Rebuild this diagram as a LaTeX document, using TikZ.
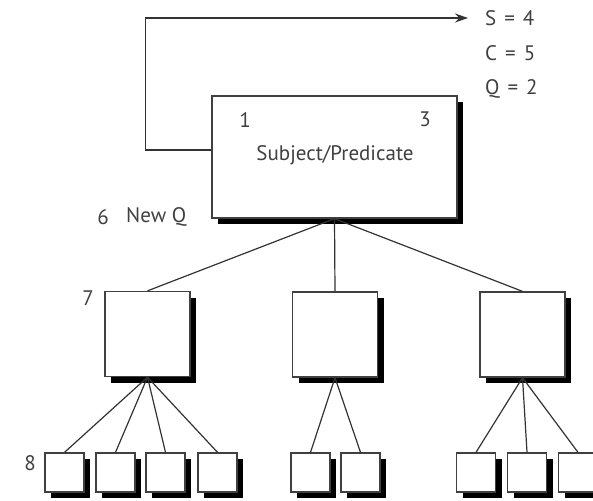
\documentclass[tikz,border=0pt]{standalone}
\usepackage{fontspec}
\setmainfont{PT Sans}
\usetikzlibrary{shadows,arrows.meta}
\begin{document}
\begin{tikzpicture}[x=1pt,y=-1pt,
  box/.style={draw=black!75, line width=1.3pt, fill=white, inner sep=0pt,
    drop shadow={shadow xshift=6pt, shadow yshift=-6pt, opacity=1, fill=black}},
  bigbox/.style={box, minimum width=245pt, minimum height=122pt},
  midbox/.style={box, minimum width=85pt, minimum height=85pt},
  smallbox/.style={box, minimum width=39pt, minimum height=39pt},
  conn/.style={draw=black!80, line width=1.2pt},
  lbl/.style={text=black!75, inner sep=0pt, font=\fontsize{21}{25}\selectfont}
]
\useasboundingbox (0,0) rectangle (593,500);
\clip (0,0) rectangle (593,500);

% main box
\node[bigbox] (m) at (334.5,157) {};
\node[lbl] (n1) at (245,120) {1};
\node[lbl] (n3) at (425,119) {3};
\node[lbl] (sp) at (335,155) {Subject/Predicate};

% mid boxes
\node[midbox] (b1) at (147.5,334) {};
\node[midbox] (b2) at (335,334.5) {};
\node[midbox] (b3) at (522.5,334.5) {};

% small boxes
\node[smallbox] (s1) at (64.5,472.5) {};
\node[smallbox] (s2) at (115.5,472.5) {};
\node[smallbox] (s3) at (165.5,472.5) {};
\node[smallbox] (s4) at (217.5,472.5) {};
\node[smallbox] (s5) at (310.5,472.5) {};
\node[smallbox] (s6) at (360.5,472.5) {};
\node[smallbox] (s7) at (476,472.5) {};
\node[smallbox] (s8) at (527,472.5) {};
\node[smallbox] (s9) at (578,472.5) {};

% connectors
\draw[conn] (m.south) -- (b1.north);
\draw[conn] (m.south) -- (b2.north);
\draw[conn] (m.south) -- (b3.north);
\draw[conn] (b1.south) -- (s1.north);
\draw[conn] (b1.south) -- (s2.north);
\draw[conn] (b1.south) -- (s3.north);
\draw[conn] (b1.south) -- (s4.north);
\draw[conn] (b2.south) -- (s5.north);
\draw[conn] (b2.south) -- (s6.north);
\draw[conn] (b3.south) -- (s7.north);
\draw[conn] (b3.south) -- (s8.north);
\draw[conn] (b3.south) -- (s9.north);

% feedback arrow
\coordinate (tip) at (468,18);
\draw[conn, -{Stealth[length=13pt,width=9pt]}] ([yshift=7pt]m.west) -- ++(-66,0) |- (tip);

% result labels
\node[lbl, anchor=west] (rs) at (485,18) {S\hspace{8pt}=\hspace{8pt}4};
\node[lbl, anchor=west] (rc) at (485,53) {C\hspace{8pt}=\hspace{8pt}5};
\node[lbl, anchor=west] (rq) at (485,89) {Q\hspace{8pt}=\hspace{8pt}2};

% side labels
\node[lbl] (l6) at (103,217) {6};
\node[lbl, anchor=west] (lnq) at (126,217) {New Q};
\node[lbl] (l7) at (88,298) {7};
\node[lbl] (l8) at (30,463) {8};
\end{tikzpicture}
\end{document}
